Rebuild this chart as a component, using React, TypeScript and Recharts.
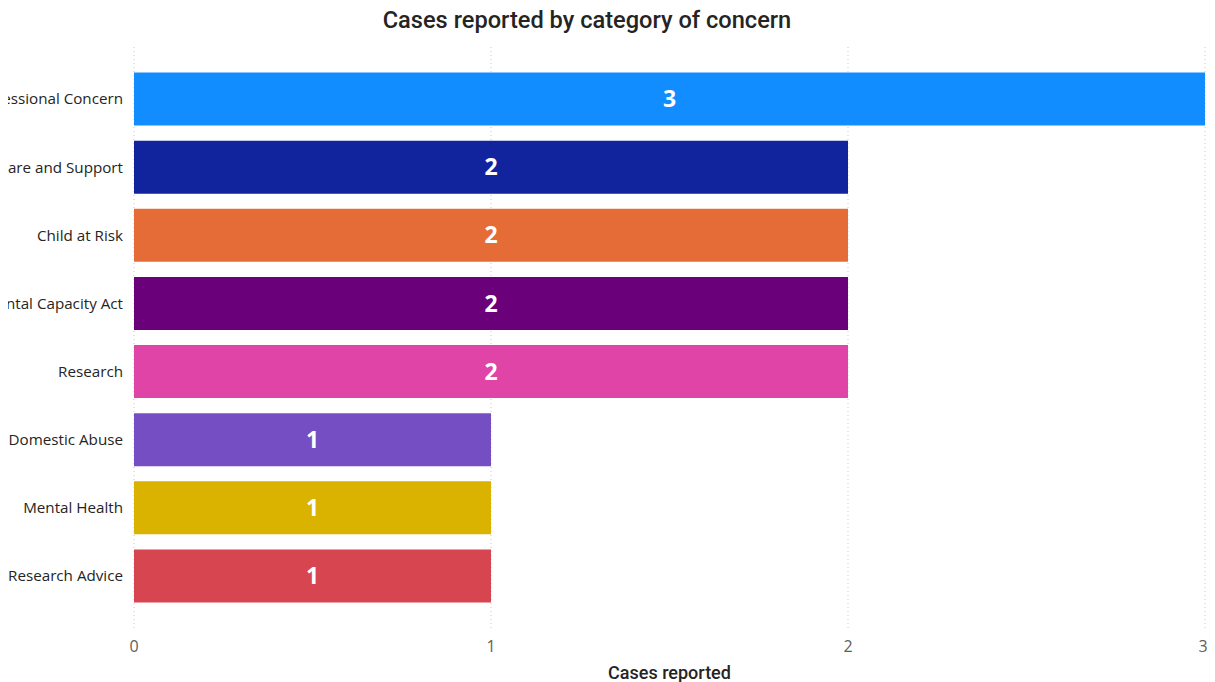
import React from "react";
import { BarChart, Bar, XAxis, YAxis, CartesianGrid, Cell, LabelList, Label } from "recharts";

const categories = [
  "Professional Concern",
  "Care and Support",
  "Child at Risk",
  "Mental Capacity Act",
  "Research",
  "Domestic Abuse",
  "Mental Health",
  "Research Advice",
];
const cases = [3, 2, 2, 2, 2, 1, 1, 1];
const colors = ["#118DFF", "#12239E", "#E66C37", "#6B007B", "#E044A7", "#744EC2", "#D9B300", "#D64550"];
const xTicks = [0, 1, 2, 3];

const data = categories.map((c, i) => ({ category: c, cases: cases[i] }));

const CatTick = (props: any) => {
  const { x, y, payload } = props;
  return (
    <text x={x} y={y} dy="0.35em" textAnchor="end" fill="#252423" fontSize={15.2} fontFamily="'Open Sans', sans-serif">
      {payload.value}
    </text>
  );
};

export default function App() {
  return (
    <div style={{ position: "relative", width: 1199, height: 674, fontFamily: "'Open Sans', sans-serif" }}>
      <div
        style={{
          position: "absolute",
          left: 0,
          top: -1,
          width: 1158,
          textAlign: "center",
          fontFamily: "Roboto, sans-serif",
          fontSize: 23.6,
          fontWeight: 500,
          color: "#252423",
          lineHeight: "26px",
        }}
      >
        Cases reported by category of concern
      </div>
      <BarChart
        width={1199}
        height={674}
        data={data}
        layout="vertical"
        margin={{ top: 39, right: 2, bottom: 0, left: 0 }}
        barCategoryGap={7.5}
      >
        <CartesianGrid horizontal={false} vertical={true} stroke="#c8c8c8" strokeDasharray="1 3" />
        <XAxis
          type="number"
          domain={[0, 3]}
          ticks={xTicks}
          axisLine={false}
          tickLine={false}
          tickMargin={5}
          height={52}
          tick={{ fill: "#605E5C", fontSize: 16, fontFamily: "'Open Sans', sans-serif" }}
        >
          <Label
            value="Cases reported"
            position="insideBottom"
            offset={3}
            fill="#252423"
            fontSize={18}
            fontFamily="Roboto, sans-serif"
            fontWeight={500}
          />
        </XAxis>
        <YAxis
          type="category"
          dataKey="category"
          width={126}
          axisLine={false}
          tickLine={false}
          tickMargin={5}
          tick={<CatTick />}
          padding={{ top: 18, bottom: 20 }}
        />
        <Bar dataKey="cases" isAnimationActive={false}>
          {data.map((d, i) => (
            <Cell key={d.category} fill={colors[i]} />
          ))}
          <LabelList
            dataKey="cases"
            position="center"
            fill="#ffffff"
            fontSize={23}
            fontWeight={700}
            fontFamily="'Open Sans', sans-serif"
          />
        </Bar>
      </BarChart>
    </div>
  );
}
